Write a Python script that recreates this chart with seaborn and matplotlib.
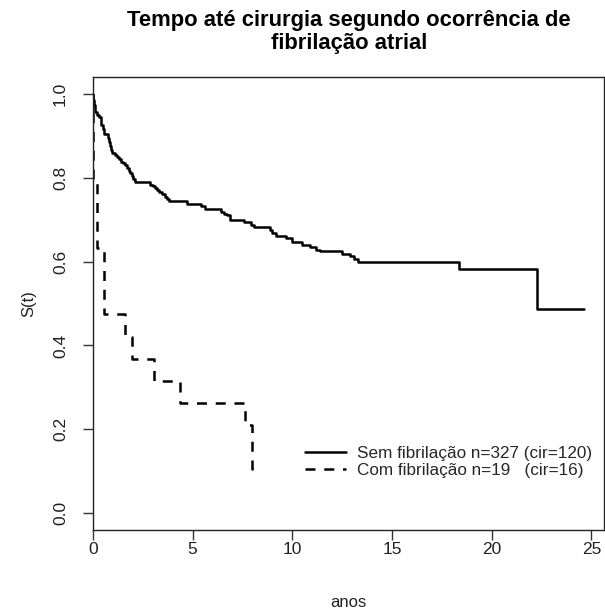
import matplotlib
matplotlib.use("Agg")
import matplotlib.pyplot as plt
import seaborn as sns
import pandas as pd

# Kaplan-Meier step estimates (time in years, survival after each event)
sem_tempo = [0.0, 0.02, 0.05, 0.10, 0.20, 0.30, 0.40, 0.48, 0.55, 0.75, 0.80,
             0.85, 0.90, 0.95, 1.10, 1.20, 1.30, 1.40, 1.50, 1.60, 1.70, 1.80,
             1.88, 1.95, 2.02, 2.10, 2.85, 3.00, 3.10, 3.20, 3.30, 3.45, 3.60,
             3.70, 3.80, 4.70, 5.40, 5.60, 6.40, 6.55, 6.70, 6.85, 7.60, 7.95,
             8.10, 8.90, 9.00, 9.20, 9.70, 10.0, 10.5, 10.9, 11.2, 11.4, 12.5,
             12.9, 13.1, 13.3, 18.35, 22.25, 24.65]
sem_surv = [1.000, 0.985, 0.974, 0.957, 0.950, 0.945, 0.925, 0.915, 0.905,
            0.895, 0.885, 0.875, 0.867, 0.860, 0.855, 0.850, 0.844, 0.838,
            0.834, 0.830, 0.822, 0.815, 0.810, 0.805, 0.797, 0.790, 0.783,
            0.779, 0.775, 0.770, 0.765, 0.760, 0.755, 0.750, 0.745, 0.738,
            0.733, 0.726, 0.719, 0.714, 0.710, 0.700, 0.695, 0.688, 0.683,
            0.676, 0.669, 0.662, 0.655, 0.647, 0.640, 0.634, 0.628, 0.624,
            0.619, 0.614, 0.606, 0.598, 0.583, 0.488, 0.488]

com_tempo = [0.0, 0.02, 0.22, 0.55, 1.60, 1.95, 3.05, 4.35, 7.65, 8.00, 8.30]
com_surv = [1.000, 0.789, 0.632, 0.474, 0.421, 0.368, 0.316, 0.263, 0.210,
            0.105, 0.105]

rotulos = ["Sem fibrilação n=327 (cir=120)", "Com fibrilação n=19   (cir=16)"]
titulo = "Tempo até cirurgia segundo ocorrência de\nfibrilação atrial"
x_ticks = [0, 5, 10, 15, 20, 25]
y_ticks = [0.0, 0.2, 0.4, 0.6, 0.8, 1.0]

sns.set_theme(style="white")
plt.rcParams["font.family"] = ["Liberation Sans", "DejaVu Sans"]

fig = plt.figure(figsize=(6.05, 6.13), dpi=100)
ax = fig.add_axes([93 / 605, 83 / 613, 511 / 605, 453 / 613])

df_sem = pd.DataFrame({"t": sem_tempo, "S": sem_surv})
df_com = pd.DataFrame({"t": com_tempo, "S": com_surv})

sns.lineplot(data=df_sem, x="t", y="S", ax=ax, estimator=None, sort=False,
             drawstyle="steps-post", color="black", lw=1.8, label=rotulos[0])
sns.lineplot(data=df_com, x="t", y="S", ax=ax, estimator=None, sort=False,
             drawstyle="steps-post", color="black", lw=1.8,
             dashes=False, label=rotulos[1])
ax.lines[1].set_dashes((4, 3.5))

ax.set_xlim(0, 24.65 * 1.04)
ax.set_ylim(-0.04, 1.04)
ax.set_xticks(x_ticks)
ax.set_yticks(y_ticks)
ax.set_xticklabels([str(v) for v in x_ticks], fontsize=12.5, color="#222222")
ax.set_yticklabels([f"{v:.1f}" for v in y_ticks], fontsize=12.5,
                   rotation=90, va="center", color="#222222")
ax.tick_params(axis="both", direction="out", length=7, width=1,
               color="#333333", bottom=True, left=True)
ax.tick_params(axis="x", pad=2)
ax.tick_params(axis="y", pad=11)

for sp in ax.spines.values():
    sp.set_visible(True)
    sp.set_color("#222222")
    sp.set_linewidth(1.0)

ax.set_xlabel("anos", fontsize=12, color="#222222")
ax.xaxis.set_label_coords(0.5, -0.143)
ax.set_ylabel("S(t)", fontsize=12, labelpad=12, color="#222222")

fig.text(349 / 605, 1 - 32 / 613, titulo, ha="center", va="center",
         fontsize=15.8, fontweight="bold", linespacing=1.1, color="black")

leg = ax.legend(loc="upper left", bbox_to_anchor=(0.402, 0.2), frameon=False,
                fontsize=12.3, handlelength=2.4, handletextpad=0.6,
                labelspacing=0.1, borderaxespad=0)
for h in leg.get_lines():
    h.set_linewidth(1.8)
leg.get_lines()[1].set_dashes((4, 3.5))

fig.savefig("out.png", dpi=100, facecolor="white")
